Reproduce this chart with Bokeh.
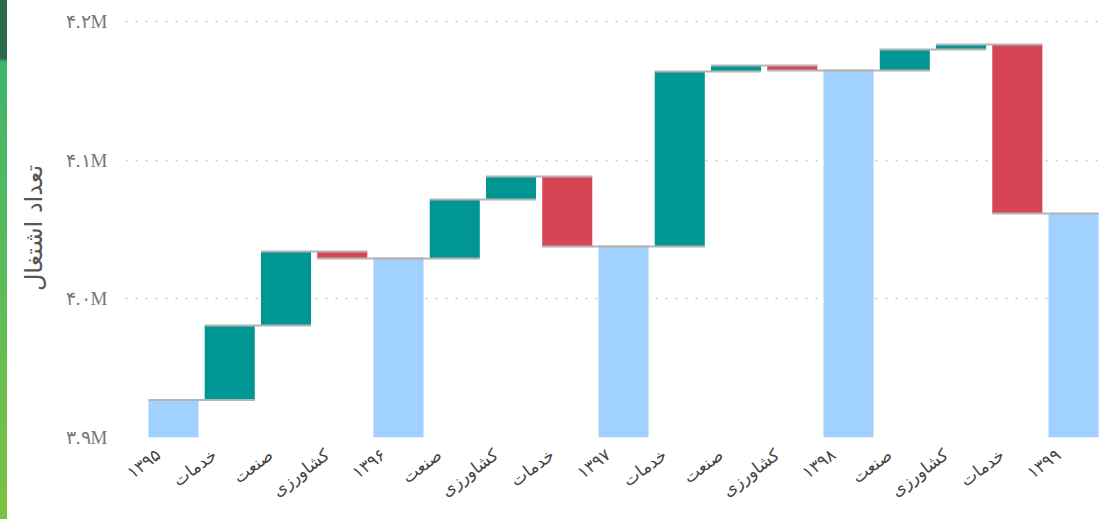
from bokeh.plotting import figure
from bokeh.models import ColumnDataSource, FixedTicker, Range1d, LinearAxis
from bokeh.embed import file_html
from bokeh.resources import INLINE
import math

# ---- data ----
labels = ["۱۳۹۵", "خدمات", "صنعت", "کشاورزی", "۱۳۹۶", "صنعت", "کشاورزی", "خدمات",
          "۱۳۹۷", "خدمات", "صنعت", "کشاورزی", "۱۳۹۸", "صنعت", "کشاورزی", "خدمات", "۱۳۹۹"]
is_total = [True, False, False, False, True, False, False, False,
            True, False, False, False, True, False, False, False, True]
# first value is the starting total; other non-total entries are changes
changes = [3927000, 53900, 53400, -5100, 0, 42600, 16600, -50500,
           0, 126400, 4300, -3600, 0, 15100, 3700, -122100, 0]
y_ticks = [3900000, 4000000, 4100000, 4200000]
y_tick_labels = ["۳.۹M", "۴.۰M", "۴.۱M", "۴.۲M"]
y_title = "تعداد اشتغال"

BASE = 3900000
C_UP, C_DOWN, C_TOTAL = "#009694", "#D64554", "#A0D1FF"

# ---- waterfall geometry ----
xs, bottoms, tops, colors, ends = [], [], [], [], []
run = 0
for i, (lab, tot, ch) in enumerate(zip(labels, is_total, changes)):
    if i == 0:
        run = ch
        b, t, c = BASE, run, C_TOTAL
    elif tot:
        b, t, c = BASE, run, C_TOTAL
    else:
        start = run
        run = run + ch
        b, t = min(start, run), max(start, run)
        c = C_UP if ch > 0 else C_DOWN
    xs.append(i); bottoms.append(b); tops.append(t); colors.append(c); ends.append(run)

W = 0.89
src = ColumnDataSource(dict(x=xs, bottom=bottoms, top=tops, color=colors))
seg = ColumnDataSource(dict(
    x0=[x - W / 2 for x in xs[:-1]],
    x1=[x + 1 + W / 2 for x in xs[:-1]],
    y=ends[:-1]))

X0, X1 = -0.853, 16.55
SHIFT = 0.27  # label axis offset so rotated labels end left of bar centre
p = figure(width=1108, height=511, output_backend="svg", toolbar_location=None,
           x_range=Range1d(X0, X1), y_range=Range1d(3900000, 4202500),
           min_border_left=125, min_border_right=4, min_border_top=18, min_border_bottom=73)
p.extra_x_ranges = {"lab": Range1d(X0 + SHIFT, X1 + SHIFT)}
p.outline_line_color = None
p.background_fill_color = "white"
p.border_fill_alpha = 0

p.vbar(x="x", bottom="bottom", top="top", width=W, color="color", line_color=None, source=src)
p.segment(x0="x0", x1="x1", y0="y", y1="y", line_color="#b4b4b4", line_width=2, source=seg)

# main x axis hidden; category labels on a slightly shifted axis
p.xaxis.visible = False
p.xgrid.grid_line_color = None
lab_axis = LinearAxis(x_range_name="lab", ticker=FixedTicker(ticks=xs),
                      major_label_overrides={i: lab for i, lab in enumerate(labels)})
lab_axis.major_label_orientation = math.radians(37)
lab_axis.major_label_text_font = "DejaVu Sans"
lab_axis.major_label_text_font_size = "17px"
lab_axis.major_label_text_color = "#444444"
lab_axis.axis_line_color = None
lab_axis.major_tick_line_color = None
lab_axis.minor_tick_line_color = None
lab_axis.major_label_standoff = 9
p.add_layout(lab_axis, "below")

# y axis
p.yaxis.ticker = FixedTicker(ticks=y_ticks)
p.yaxis.major_label_overrides = {t: l for t, l in zip(y_ticks, y_tick_labels)}
p.yaxis.major_label_text_font = "Liberation Serif"
p.yaxis.major_label_text_font_size = "19px"
p.yaxis.major_label_text_color = "#777777"
p.yaxis.axis_line_color = None
p.yaxis.major_tick_line_color = None
p.yaxis.minor_tick_line_color = None
p.yaxis.major_label_standoff = 12
p.yaxis.axis_label = y_title
p.yaxis.axis_label_text_font = "DejaVu Sans"
p.yaxis.axis_label_text_font_style = "normal"
p.yaxis.axis_label_text_font_size = "24px"
p.yaxis.axis_label_text_color = "#555555"
p.yaxis.axis_label_standoff = 15
p.ygrid.grid_line_color = "#c4c4c4"
p.ygrid.grid_line_dash = "2 8"
p.ygrid.grid_line_width = 1.5

html = file_html(p, INLINE)
style = ('<style>body { background: #ffffff linear-gradient(to bottom, #2b6a48 0px, #2b6a48 58px, '
         '#3fb56b 62px, #7cc242 100%) no-repeat left top / 7px 100%; }</style>')
html = html.replace("</head>", style + "</head>", 1)
open("out.html", "w").write(html)
